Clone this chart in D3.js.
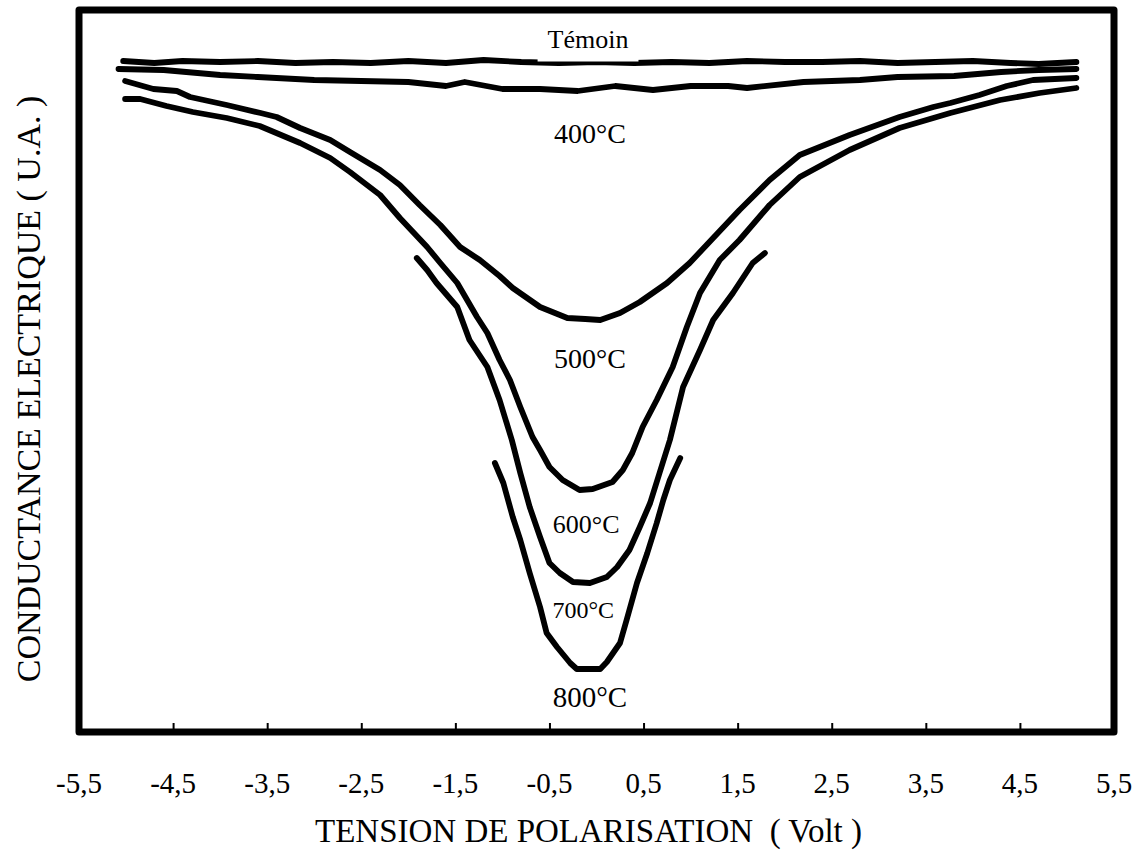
<!DOCTYPE html>
<html>
<head>
<meta charset="utf-8">
<script src="https://cdn.jsdelivr.net/npm/d3@7"></script>
<style>
  html, body { margin: 0; padding: 0; background: #fff; }
  svg { display: block; }
  text { font-family: "Liberation Serif", "Times New Roman", serif; fill: #000; }
</style>
</head>
<body>
<svg id="chart" width="1139" height="859"></svg>
<script>
// ---- Data (tension in Volt, conductance in arbitrary units) ----
const xTicks = [-5.5, -4.5, -3.5, -2.5, -1.5, -0.5, 0.5, 1.5, 2.5, 3.5, 4.5, 5.5];
const xTickLabels = ["-5,5", "-4,5", "-3,5", "-2,5", "-1,5", "-0,5", "0,5", "1,5", "2,5", "3,5", "4,5", "5,5"];

const temoinV   = [-5.03,-4.7,-4.4,-4.0,-3.6,-3.2,-2.8,-2.4,-2.0,-1.6,-1.2,-0.8,-0.4,0.0,0.4,0.8,1.2,1.6,2.0,2.4,2.8,3.2,3.6,4.0,4.4,4.7,5.1];
const temoinG   = [67.1,66.9,67.1,67.0,67.1,66.9,67.0,66.9,67.1,66.9,67.2,67.0,66.9,67.0,66.9,67.0,66.9,67.1,67.0,67.0,67.1,66.9,67.0,67.1,66.9,66.8,67.0];

const c400V = [-5.08,-4.6,-4.0,-3.6,-3.0,-2.5,-2.0,-1.6,-1.4,-1.0,-0.6,-0.2,0.2,0.6,1.0,1.4,1.6,2.2,2.8,3.2,3.8,4.3,4.7,5.1];
const c400G = [66.3,66.2,65.7,65.5,65.2,65.1,65.0,64.6,65.0,64.3,64.3,64.1,64.6,64.2,64.6,64.6,64.4,65.0,65.2,65.5,65.6,66.0,66.2,66.3];

const c500V = [-5.01,-4.71,-4.46,-4.32,-3.93,-3.57,-3.40,-3.15,-2.83,-2.62,-2.30,-2.09,-1.88,-1.66,-1.45,-1.24,-1.03,-0.89,-0.60,-0.31,-0.12,0.04,0.25,0.46,0.75,0.99,1.17,1.52,1.84,2.16,2.69,3.22,3.58,3.76,4.07,4.36,4.64,5.10];
const c500G = [65.1,64.3,64.1,63.5,62.7,61.9,61.5,60.4,59.2,58.0,56.2,54.7,52.7,50.7,48.5,47.2,45.6,44.4,42.5,41.4,41.3,41.2,41.9,43.0,44.9,46.9,48.7,52.2,55.2,57.7,59.7,61.5,62.5,62.9,63.7,64.6,65.2,65.4];

const c600V = [-5.01,-4.85,-4.57,-4.29,-3.93,-3.58,-3.15,-2.83,-2.62,-2.30,-2.09,-1.80,-1.66,-1.48,-1.27,-1.16,-1.03,-0.92,-0.81,-0.68,-0.60,-0.50,-0.36,-0.18,-0.04,0.17,0.28,0.38,0.49,0.64,0.81,0.96,1.10,1.31,1.52,1.84,2.16,2.69,3.22,3.76,4.29,4.71,5.10];
const c600G = [63.3,63.3,62.6,62.0,61.4,60.6,58.9,57.4,56.0,53.7,51.4,48.5,46.9,44.9,41.5,39.9,37.2,35.2,32.5,29.5,28.2,26.5,25.2,24.2,24.3,25.0,26.2,27.9,30.5,33.2,36.5,40.5,43.9,47.2,49.2,52.7,55.5,58.2,60.4,61.9,63.2,63.9,64.4];

const c700V = [-1.91,-1.80,-1.70,-1.48,-1.35,-1.16,-1.03,-0.90,-0.81,-0.71,-0.60,-0.50,-0.39,-0.25,-0.07,0.11,0.22,0.35,0.46,0.57,0.67,0.78,0.92,1.10,1.24,1.45,1.66,1.79];
const c700G = [47.4,46.2,44.9,42.5,39.2,36.5,33.2,29.2,25.9,22.5,19.5,16.9,15.9,15.0,14.9,15.5,16.5,18.2,20.5,22.9,25.9,29.2,34.5,38.2,41.2,43.9,46.9,47.9];

const c800V = [-1.08,-0.99,-0.89,-0.81,-0.71,-0.60,-0.53,-0.42,-0.28,-0.21,0.04,0.11,0.25,0.32,0.43,0.54,0.64,0.71,0.78,0.89];
const c800G = [26.9,24.9,21.5,19.2,15.9,12.5,9.9,8.5,6.9,6.3,6.3,7.0,8.9,11.2,14.9,17.9,20.9,23.2,25.2,27.4];

const seriesNames = ["Témoin", "400°C", "500°C", "600°C", "700°C", "800°C"];
const seriesV = [temoinV, c400V, c500V, c600V, c700V, c800V];
const seriesG = [temoinG, c400G, c500G, c600G, c700G, c800G];

// ---- Layout ----
const svg = d3.select("#chart");
const mLeft = 79, mRight = 1114, mTop = 10, mBottom = 732;
const x = d3.scaleLinear().domain([-5.5, 5.5]).range([mLeft, mRight]);
const y = d3.scaleLinear().domain([0, 72.2]).range([mBottom, mTop]);

// curves
const line = d3.line().x(d => x(d[0])).y(d => y(d[1]));
seriesNames.forEach((name, i) => {
  const pts = seriesV[i].map((v, k) => [v, seriesG[i][k]]);
  svg.append("path")
    .datum(pts)
    .attr("d", line)
    .attr("fill", "none")
    .attr("stroke", "#000")
    .attr("stroke-width", 5.8)
    .attr("stroke-linejoin", "round")
    .attr("stroke-linecap", "round");
});

// curve labels (annotation anchors in data units)
const labelAnchor = [
  { v: -0.09, g: 68.4, size: 26, white: true },
  { v: -0.07, g: 58.9, size: 28 },
  { v: -0.07, g: 36.4, size: 28 },
  { v: -0.11, g: 19.9, size: 26 },
  { v: -0.14, g: 11.4, size: 24 },
  { v: -0.07, g: 2.5, size: 29 }
];
const labelLayer = svg.append("g");
seriesNames.forEach((name, i) => {
  const p = labelAnchor[i];
  const t = labelLayer.append("text")
    .attr("x", x(p.v))
    .attr("y", y(p.g))
    .attr("text-anchor", "middle")
    .attr("font-size", p.size)
    .text(name);
  if (p.white) {
    const bb = t.node().getBBox();
    labelLayer.insert("rect", "text")
      .attr("x", bb.x - 10)
      .attr("y", bb.y - 4)
      .attr("width", bb.width + 20)
      .attr("height", y(67.05) - (bb.y - 4))
      .attr("fill", "#fff");
  }
});

// frame
svg.append("rect")
  .attr("x", mLeft).attr("y", mTop)
  .attr("width", mRight - mLeft).attr("height", mBottom - mTop)
  .attr("fill", "none").attr("stroke", "#000")
  .attr("stroke-width", 7).attr("stroke-linejoin", "round");

// ticks (inside, bottom)
const axis = d3.axisTop(x)
  .tickValues(xTicks.slice(1, -1))
  .tickSize(9)
  .tickFormat("");
const gAxis = svg.append("g").attr("transform", `translate(0,${mBottom})`).call(axis);
gAxis.select(".domain").remove();
gAxis.selectAll(".tick line").attr("stroke", "#000").attr("stroke-width", 2);

// tick labels
svg.append("g").selectAll("text")
  .data(xTicks)
  .join("text")
  .attr("x", d => x(d))
  .attr("y", 793)
  .attr("text-anchor", "middle")
  .attr("font-size", 29)
  .text((d, i) => xTickLabels[i]);

// axis titles
svg.append("text")
  .attr("x", (mLeft + mRight) / 2 - 8)
  .attr("y", 842)
  .attr("text-anchor", "middle")
  .attr("font-size", 33)
  .style("white-space", "pre")
  .text("TENSION DE POLARISATION  ( Volt )");

svg.append("text")
  .attr("transform", "translate(40,389) rotate(-90)")
  .attr("text-anchor", "middle")
  .attr("font-size", 34)
  .style("white-space", "pre")
  .text("CONDUCTANCE ELECTRIQUE ( U.A. )");
</script>
</body>
</html>
